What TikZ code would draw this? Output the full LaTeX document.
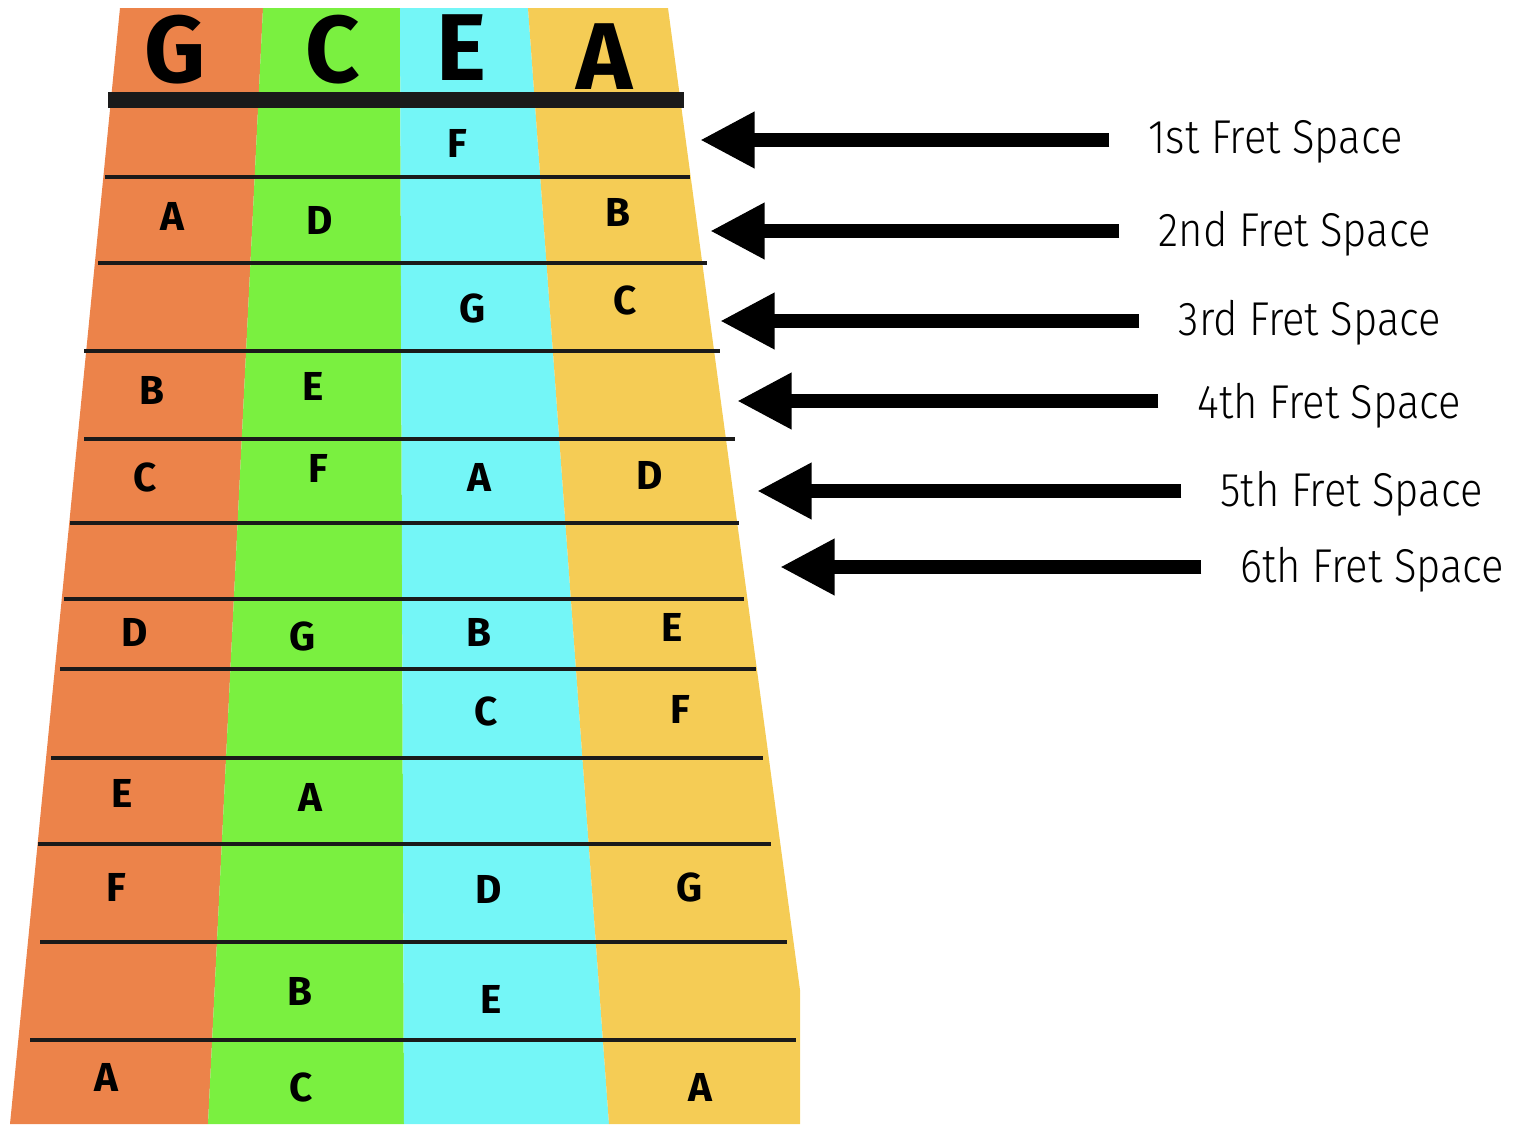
\documentclass[tikz,border=0pt]{standalone}
\usepackage{fontspec}
\setmainfont{Fira Sans}
\newfontfamily\spacefont{Fira Sans Light}[FakeStretch=0.88]
\usetikzlibrary{arrows.meta}

\definecolor{gstring}{HTML}{EC834A}
\definecolor{cstring}{HTML}{7AF040}
\definecolor{estring}{HTML}{74F6F7}
\definecolor{astring}{HTML}{F5CC55}
\definecolor{fretblack}{HTML}{1A1A1A}

\tikzset{
  head/.style={font=\fontsize{27}{27}\selectfont\bfseries, inner sep=0pt},
  note/.style={font=\fontsize{11.5}{12}\selectfont\bfseries, inner sep=0pt},
  nut/.style={draw=fretblack, line width=4.5pt},
  fret/.style={draw=fretblack, line width=1.4pt},
  spacelabel/.style={font=\spacefont\fontsize{13.5}{14}\selectfont, anchor=west, inner sep=0pt},
  pointer/.style={line width=4pt, -{Triangle[length=15.5pt,width=15pt]}, shorten <=11pt}
}

\begin{document}
\begin{tikzpicture}[x=0.01cm,y=-0.01cm]
\useasboundingbox (0,0) rectangle (1524,1124);
% Strings
\fill[gstring] (120,8) -- (263,8) -- (208,1124) -- (10,1124) -- cycle;
\fill[cstring] (263,8) -- (400,8) -- (404,1124) -- (208,1124) -- cycle;
\fill[estring] (400,8) -- (528,8) -- (609,1124) -- (404,1124) -- cycle;
\fill[astring] (528,8) -- (668,8) -- (800,990) -- (800,1124) -- (609,1124) -- cycle;
% Nut and frets
\draw[nut] (108,100) -- (684,100);
\draw[fret] (105,177) -- (690,177);
\draw[fret] (98,263) -- (707,263);
\draw[fret] (84,351) -- (720,351);
\draw[fret] (84,439) -- (735,439);
\draw[fret] (70,523) -- (739,523);
\draw[fret] (64,599) -- (744,599);
\draw[fret] (60,669) -- (756,669);
\draw[fret] (51,758) -- (763,758);
\draw[fret] (38,844) -- (771,844);
\draw[fret] (40,942) -- (787,942);
\draw[fret] (30,1040) -- (796,1040);
% Open strings
\node[head] (hG) at (175,50) {G};
\node[head] (hC) at (333,50) {C};
\node[head] (hE) at (461,48) {E};
\node[head] (hA) at (605,57) {A};
% Notes
\node[note] (r1e) at (457,143) {F};
\node[note] (r2g) at (172,216) {A};
\node[note] (r2c) at (320,220) {D};
\node[note] (r2a) at (618,212) {B};
\node[note] (r3e) at (473,308) {G};
\node[note] (r3a) at (625,300) {C};
\node[note] (r4g) at (152,390) {B};
\node[note] (r4c) at (313,386) {E};
\node[note] (r5g) at (145,477) {C};
\node[note] (r5c) at (318,468) {F};
\node[note] (r5e) at (479,477) {A};
\node[note] (r5a) at (650,475) {D};
\node[note] (r7g) at (135,632) {D};
\node[note] (r7c) at (303,636) {G};
\node[note] (r7e) at (479,632) {B};
\node[note] (r7a) at (672,627) {E};
\node[note] (r8e) at (486,711) {C};
\node[note] (r8a) at (680,709) {F};
\node[note] (r9g) at (122,793) {E};
\node[note] (r9c) at (310,797) {A};
\node[note] (r10g) at (116,887) {F};
\node[note] (r10e) at (489,889) {D};
\node[note] (r10a) at (690,887) {G};
\node[note] (r11c) at (300,991) {B};
\node[note] (r11e) at (491,999) {E};
\node[note] (r12g) at (106,1077) {A};
\node[note] (r12c) at (301,1087) {C};
\node[note] (r12a) at (700,1087) {A};
% Labels
\node[spacelabel] (s1) at (1148,142) {1st Fret Space};
\node[spacelabel] (s2) at (1158,234) {2nd Fret Space};
\node[spacelabel] (s3) at (1178,323) {3rd Fret Space};
\node[spacelabel] (s4) at (1197,406) {4th Fret Space};
\node[spacelabel] (s5) at (1220,494) {5th Fret Space};
\node[spacelabel] (s6) at (1240,570) {6th Fret Space};
\coordinate (t1) at (700,140);
\coordinate (t2) at (710,231);
\coordinate (t3) at (720,321);
\coordinate (t4) at (737,401);
\coordinate (t5) at (757,491);
\coordinate (t6) at (780,567);
% Arrows
\draw[pointer] (s1.west |- t1) -- (t1);
\draw[pointer] (s2.west |- t2) -- (t2);
\draw[pointer] (s3.west |- t3) -- (t3);
\draw[pointer] (s4.west |- t4) -- (t4);
\draw[pointer] (s5.west |- t5) -- (t5);
\draw[pointer] (s6.west |- t6) -- (t6);
\end{tikzpicture}
\end{document}
